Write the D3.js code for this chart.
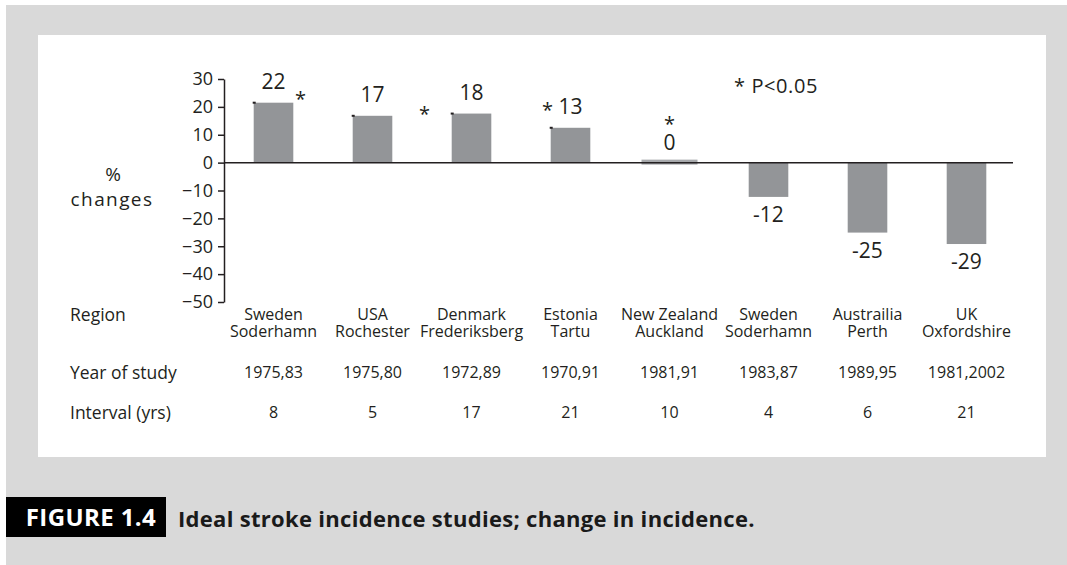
<!DOCTYPE html>
<html>
<head>
<meta charset="utf-8">
<script src="https://cdn.jsdelivr.net/npm/d3@7"></script>
<style>
  body { margin: 0; background: #fff; }
  svg text { font-family: "Open Sans", "Noto Sans", sans-serif; fill: #231f20; }
</style>
</head>
<body>
<div id="chart"></div>
<script>
const regionTop = ["Sweden", "USA", "Denmark", "Estonia", "New Zealand", "Sweden", "Austrailia", "UK"];
const regionBottom = ["Soderhamn", "Rochester", "Frederiksberg", "Tartu", "Auckland", "Soderhamn", "Perth", "Oxfordshire"];
const changes = [21.5, 16.8, 17.6, 12.5, 0, -12.3, -25.1, -29.2];
const changeLabels = ["22", "17", "18", "13", "0", "-12", "-25", "-29"];
const years = ["1975,83", "1975,80", "1972,89", "1970,91", "1981,91", "1983,87", "1989,95", "1981,2002"];
const intervals = ["8", "5", "17", "21", "10", "4", "6", "21"];
const significant = [true, false, true, true, true, false, false, false];
const yTicks = [-50, -40, -30, -20, -10, 0, 10, 20, 30];

const width = 1067, height = 565;

const svg = d3.select("#chart").append("svg")
  .attr("width", width)
  .attr("height", height);

// grey page and white panel
svg.append("rect").attr("x", 6).attr("y", 5).attr("width", width - 6).attr("height", height - 5).attr("fill", "#d9d9d9");
svg.append("rect").attr("x", 38).attr("y", 35).attr("width", 1008).attr("height", 422).attr("fill", "#fff");

const keys = d3.range(changes.length);

const x = d3.scaleBand()
  .domain(keys)
  .range([224, 1016])
  .paddingInner(0.6)
  .paddingOuter(0.3);

const y = d3.scaleLinear()
  .domain([-50, 30])
  .range([302, 79]);

const cx = i => x(i) + x.bandwidth() / 2;

// y axis
const yAxis = svg.append("g")
  .attr("transform", "translate(224,0)")
  .call(d3.axisLeft(y).tickValues(yTicks).tickSize(6).tickSizeOuter(0).tickPadding(5));
yAxis.selectAll("path, line").attr("stroke", "#231f20").attr("stroke-width", 1.5);
yAxis.selectAll("text").style("font-size", "18px").attr("fill", "#231f20");

// bars
svg.selectAll("rect.bar")
  .data(keys)
  .enter()
  .append("rect")
  .attr("class", "bar")
  .attr("x", i => changes[i] === 0 ? cx(i) - 28 : x(i))
  .attr("width", i => changes[i] === 0 ? 56 : x.bandwidth())
  .attr("y", i => changes[i] === 0 ? y(0) - 3 : y(Math.max(0, changes[i])))
  .attr("height", i => changes[i] === 0 ? 5 : Math.abs(y(changes[i]) - y(0)))
  .attr("fill", i => changes[i] === 0 ? "#a7a9ac" : "#939598");

// little marks at the top-left of the positive bars
svg.selectAll("rect.dot")
  .data(keys.filter(i => changes[i] > 0))
  .enter()
  .append("rect")
  .attr("x", i => x(i) - 1)
  .attr("y", i => y(changes[i]) - 1)
  .attr("width", 3)
  .attr("height", 2)
  .attr("fill", "#231f20");

// zero line
svg.append("line")
  .attr("x1", 224).attr("x2", 1013)
  .attr("y1", y(0)).attr("y2", y(0))
  .attr("stroke", "#231f20").attr("stroke-width", 1.5);

// value labels
const labelY = i => changes[i] > 0 ? y(changes[i]) - 14 : changes[i] === 0 ? y(0) - 13 : y(changes[i]) + 25;
svg.selectAll("text.val")
  .data(keys)
  .enter()
  .append("text")
  .attr("class", "val")
  .attr("x", cx)
  .attr("y", labelY)
  .attr("text-anchor", "middle")
  .style("font-size", "21px")
  .text(i => changeLabels[i]);

// significance stars
const starOffset = { 0: [27, 17], 2: [-47, 21], 3: [-23, 3], 4: [0, -19] };
svg.selectAll("text.star")
  .data(keys.filter(i => significant[i]))
  .enter()
  .append("text")
  .attr("class", "star")
  .attr("x", i => cx(i) + starOffset[i][0])
  .attr("y", i => labelY(i) + starOffset[i][1])
  .attr("text-anchor", "middle")
  .style("font-size", "20px")
  .text("*");

svg.append("text")
  .attr("x", 734).attr("y", 93)
  .style("font-size", "20px")
  .style("letter-spacing", "0.6px")
  .text("* P<0.05");

// y title
svg.append("text").attr("x", 113).attr("y", 181).attr("text-anchor", "middle").style("font-size", "19px").text("%");
svg.append("text").attr("x", 112).attr("y", 206).attr("text-anchor", "middle").style("font-size", "19px")
  .style("letter-spacing", "1.4px").text("changes");

// table rows under the chart
const rowLabel = (txt, yy) => svg.append("text").attr("x", 70).attr("y", yy).style("font-size", "17.5px").text(txt);
rowLabel("Region", 321);
rowLabel("Year of study", 379);
rowLabel("Interval (yrs)", 419);

const row = (arr, yy) => svg.append("g").selectAll("text")
  .data(keys)
  .enter()
  .append("text")
  .attr("x", cx)
  .attr("y", yy)
  .attr("text-anchor", "middle")
  .style("font-size", "16px")
  .text(i => arr[i]);

row(regionTop, 320);
row(regionBottom, 337);
row(years, 378);
row(intervals, 418);

// caption
svg.append("rect").attr("x", 6).attr("y", 497).attr("width", 160).attr("height", 40).attr("fill", "#000");
svg.append("text").attr("x", 91).attr("y", 526).attr("text-anchor", "middle")
  .style("font-size", "24px").style("font-weight", "bold").style("letter-spacing", "0.4px")
  .style("fill", "#fff").text("FIGURE 1.4");
svg.append("text").attr("x", 178).attr("y", 527)
  .style("font-size", "22px").style("font-weight", "bold").style("letter-spacing", "0.3px").style("fill", "#1a1a1a")
  .text("Ideal stroke incidence studies; change in incidence.");
</script>
</body>
</html>
